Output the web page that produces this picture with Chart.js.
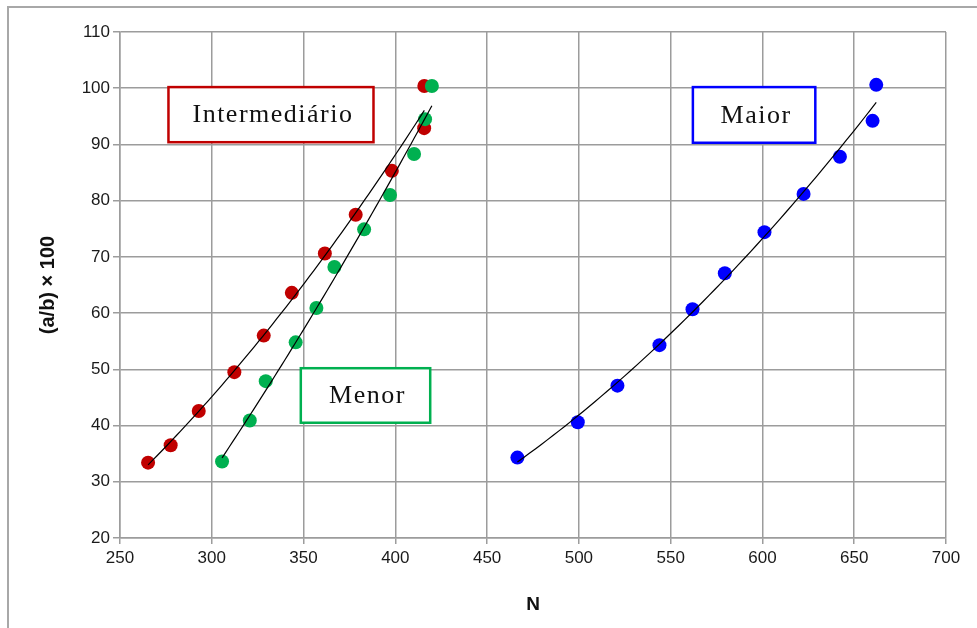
<!DOCTYPE html>
<html><head><meta charset="utf-8">
<script src="https://cdn.jsdelivr.net/npm/chart.js@4.4.0/dist/chart.umd.min.js"></script>
<style>
html,body{margin:0;padding:0;background:#fff;overflow:hidden;}
#wrap{position:relative;width:977px;height:628px;}
#frame{position:absolute;left:7px;top:6px;width:990px;height:660px;border-left:2px solid #a8a8a8;border-top:2px solid #a8a8a8;pointer-events:none;}
canvas{display:block;}
</style></head><body>
<div id="wrap"><canvas id="c" width="977" height="628"></canvas><div id="frame"></div></div>
<script>
// ---- data ----
const intermediarioN = [265.3, 277.6, 292.9, 312.3, 328.3, 343.6, 361.6, 378.4, 398.1, 415.7, 415.8];
const intermediarioY = [33.4, 36.5, 42.6, 49.5, 56.0, 63.6, 70.6, 77.5, 85.3, 92.9, 100.4];
const menorN = [305.6, 320.7, 329.4, 345.7, 357.0, 366.8, 383.0, 397.1, 410.2, 416.2, 419.9];
const menorY = [33.6, 40.9, 47.9, 54.8, 60.9, 68.2, 74.9, 81.0, 88.3, 94.5, 100.4];
const maiorN = [466.5, 499.4, 521.0, 543.9, 561.9, 579.5, 601.1, 622.4, 642.2, 660.0, 662.0];
const maiorY = [34.3, 40.6, 47.1, 54.3, 60.7, 67.1, 74.4, 81.2, 87.8, 94.2, 100.6];
const xTicks = [250, 300, 350, 400, 450, 500, 550, 600, 650, 700];
const yTicks = [20, 30, 40, 50, 60, 70, 80, 90, 100, 110];
const seriesNames = ['Intermediário', 'Menor', 'Maior'];
const seriesColors = ['#c00000', '#00b050', '#0000ff'];

// label boxes (data-space placement)
const labelBoxes = [
  {text: 'Intermediário', color: seriesColors[0], x0: 276.4, x1: 388.1, y0: 90.4, y1: 100.2},
  {text: 'Menor', color: seriesColors[1], x0: 348.5, x1: 419.0, y0: 40.5, y1: 50.2},
  {text: 'Maior', color: seriesColors[2], x0: 562.1, x1: 628.8, y0: 90.3, y1: 100.2}
];

function toPoints(xs, ys) { return xs.map((x, i) => ({x: x, y: ys[i]})); }

// 2nd-order polynomial least-squares trend line (like the spreadsheet trendline)
function polyTrend(xs, ys, steps) {
  const n = xs.length;
  const mx = xs.reduce((a, b) => a + b, 0) / n;
  let S = [0,0,0,0,0], T = [0,0,0];
  for (let i = 0; i < n; i++) {
    const u = xs[i] - mx;
    let p = 1;
    for (let k = 0; k < 5; k++) { S[k] += p; if (k < 3) T[k] += p * ys[i]; p *= u; }
  }
  const A = [[S[0],S[1],S[2],T[0]],[S[1],S[2],S[3],T[1]],[S[2],S[3],S[4],T[2]]];
  for (let c = 0; c < 3; c++) {
    let piv = c;
    for (let r = c+1; r < 3; r++) if (Math.abs(A[r][c]) > Math.abs(A[piv][c])) piv = r;
    [A[c], A[piv]] = [A[piv], A[c]];
    for (let r = 0; r < 3; r++) {
      if (r === c) continue;
      const f = A[r][c] / A[c][c];
      for (let k = c; k < 4; k++) A[r][k] -= f * A[c][k];
    }
  }
  const coef = [A[0][3]/A[0][0], A[1][3]/A[1][1], A[2][3]/A[2][2]];
  const lo = Math.min(...xs), hi = Math.max(...xs);
  const pts = [];
  for (let s = 0; s <= steps; s++) {
    const x = lo + (hi - lo) * s / steps;
    const u = x - mx;
    pts.push({x: x, y: coef[0] + coef[1]*u + coef[2]*u*u});
  }
  return pts;
}

const trendStyle = {type: 'line', borderColor: '#000', borderWidth: 1.2, pointRadius: 0, fill: false, tension: 0, order: 0};

const labelBoxPlugin = {
  id: 'labelBoxes',
  afterDatasetsDraw(chart) {
    const {ctx, scales: {x, y}} = chart;
    ctx.save();
    labelBoxes.forEach(b => {
      const l = x.getPixelForValue(b.x0), r = x.getPixelForValue(b.x1);
      const t = y.getPixelForValue(b.y1), btm = y.getPixelForValue(b.y0);
      ctx.fillStyle = '#fff';
      ctx.fillRect(l, t, r - l, btm - t);
      ctx.strokeStyle = b.color;
      ctx.lineWidth = 2.5;
      ctx.strokeRect(l, t, r - l, btm - t);
      ctx.fillStyle = '#111';
      ctx.font = '26px "Liberation Serif", "Times New Roman", serif';
      try { ctx.letterSpacing = '1.5px'; } catch (e) {}
      ctx.textAlign = 'center';
      ctx.textBaseline = 'middle';
      ctx.fillText(b.text, (l + r) / 2 + 2, (t + btm) / 2 + 1);
    });
    ctx.restore();
  }
};

new Chart(document.getElementById('c'), {
  type: 'scatter',
  data: {
    datasets: [
      Object.assign({label: 'trend ' + seriesNames[0], data: polyTrend(intermediarioN, intermediarioY, 60)}, trendStyle),
      Object.assign({label: 'trend ' + seriesNames[1], data: polyTrend(menorN, menorY, 60)}, trendStyle),
      Object.assign({label: 'trend ' + seriesNames[2], data: polyTrend(maiorN, maiorY, 60)}, trendStyle),
      {label: seriesNames[1], data: toPoints(menorN, menorY), backgroundColor: seriesColors[1], borderWidth: 0, pointRadius: 7, order: 1},
      {label: seriesNames[0], data: toPoints(intermediarioN, intermediarioY), backgroundColor: seriesColors[0], borderWidth: 0, pointRadius: 7, order: 2},
      {label: seriesNames[2], data: toPoints(maiorN, maiorY), backgroundColor: seriesColors[2], borderWidth: 0, pointRadius: 7, order: 1}
    ]
  },
  options: {
    responsive: false,
    animation: false,
    devicePixelRatio: 1,
    layout: {padding: {top: 32, right: 31, bottom: 0, left: 0}},
    plugins: {legend: {display: false}, tooltip: {enabled: false}},
    scales: {
      x: {
        type: 'linear', min: 250, max: 700,
        afterBuildTicks: s => { s.ticks = xTicks.map(v => ({value: v})); },
        afterFit: s => { s.height = 90; },
        grid: {color: '#9c9c9c', lineWidth: 1.5, tickLength: 6, tickColor: '#9c9c9c'},
        border: {color: '#9c9c9c', width: 1.5},
        ticks: {color: '#1a1a1a', font: {family: '"Liberation Sans", Arial, sans-serif', size: 17}, padding: 4, maxRotation: 0},
        title: {display: true, text: 'N', color: '#111', font: {family: '"Liberation Sans", Arial, sans-serif', size: 19, weight: 'bold'}, padding: {top: 0, bottom: 12}}
      },
      y: {
        type: 'linear', min: 20, max: 110,
        afterBuildTicks: s => { s.ticks = yTicks.map(v => ({value: v})); },
        afterFit: s => { s.width = 120; },
        grid: {color: '#9c9c9c', lineWidth: 1.5, tickLength: 7, tickColor: '#9c9c9c'},
        border: {color: '#9c9c9c', width: 1.5},
        ticks: {color: '#1a1a1a', font: {family: '"Liberation Sans", Arial, sans-serif', size: 17}, padding: 3},
        title: {display: true, text: '(a/b) × 100', color: '#111', font: {family: '"Liberation Sans", Arial, sans-serif', size: 20, weight: 'bold'}, padding: {top: 36, bottom: 0}}
      }
    }
  },
  plugins: [labelBoxPlugin]
});
</script>
</body></html>
